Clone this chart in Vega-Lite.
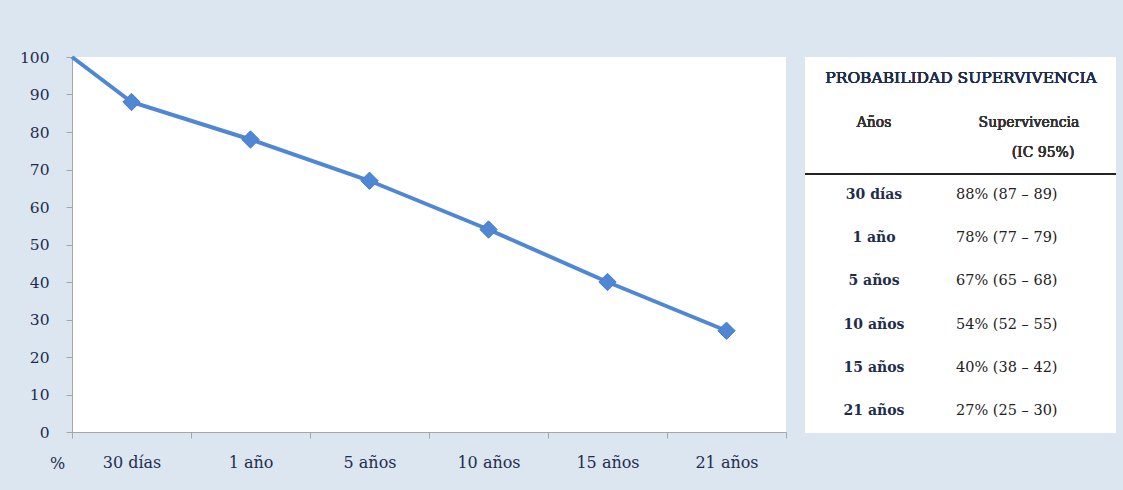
{
  "$schema": "https://vega.github.io/schema/vega-lite/v6.json",
  "autosize": {"type": "pad"},
  "padding": {"left": 19, "top": 49, "right": 7, "bottom": 22},
  "background": "#dce6f1",
  "bounds": "flush",
  "spacing": 19,
  "config": {
    "font": "DejaVu Serif",
    "text": {"font": "DejaVu Serif"},
    "axis": {"labelFont": "DejaVu Serif", "titleFont": "DejaVu Serif"}
  },
  "datasets": {
    "curva": [
      {"periodo": "Inicio", "t": 0, "sup": 100},
      {"periodo": "30 días", "t": 0.5, "sup": 88},
      {"periodo": "1 año", "t": 1.5, "sup": 78},
      {"periodo": "5 años", "t": 2.5, "sup": 67},
      {"periodo": "10 años", "t": 3.5, "sup": 54},
      {"periodo": "15 años", "t": 4.5, "sup": 40},
      {"periodo": "21 años", "t": 5.5, "sup": 27}
    ],
    "tabla": [
      {"anos": "30 días", "ic": "88% (87 – 89)"},
      {"anos": "1 año", "ic": "78% (77 – 79)"},
      {"anos": "5 años", "ic": "67% (65 – 68)"},
      {"anos": "10 años", "ic": "54% (52 – 55)"},
      {"anos": "15 años", "ic": "40% (38 – 42)"},
      {"anos": "21 años", "ic": "27% (25 – 30)"}
    ]
  },
  "hconcat": [
    {
      "width": 714,
      "height": 375,
      "view": {"fill": "white", "stroke": null},
      "data": {"name": "curva"},
      "resolve": {"axis": {"x": "independent"}},
      "encoding": {
        "y": {
          "field": "sup", "type": "quantitative",
          "scale": {"domain": [0, 100], "nice": false},
          "axis": {
            "values": [0, 10, 20, 30, 40, 50, 60, 70, 80, 90, 100],
            "tickCount": 11,
            "labelOverlap": false, "labelFlush": false,
            "grid": false, "domainColor": "#a6a6a6", "tickColor": "#a6a6a6",
            "tickSize": 6, "labelPadding": 17, "labelFontSize": 15.5,
            "labelColor": "#1f2d4d",
            "title": "%", "titleAngle": 0, "titleFontSize": 16,
            "titleFontWeight": "normal", "titleColor": "#1f2d4d",
            "titleX": -15, "titleY": 406, "titleAlign": "center",
            "titleBaseline": "middle"
          }
        }
      },
      "layer": [
        {
          "mark": {"type": "line", "color": "#4f87d4", "strokeWidth": 4},
          "encoding": {
            "x": {
              "field": "t", "type": "quantitative",
              "scale": {"domain": [0, 6], "nice": false, "zero": false},
              "axis": {
                "orient": "bottom", "values": [0, 1, 2, 3, 4, 5, 6],
                "labels": false, "grid": false, "title": null,
                "domainColor": "#a6a6a6", "tickColor": "#a6a6a6", "tickSize": 6
              }
            }
          }
        },
        {
          "transform": [{"filter": "datum.t > 0"}],
          "mark": {"type": "point", "shape": "diamond", "filled": true, "size": 300,
                   "color": "#4f87d4", "opacity": 1, "stroke": "#4a7fc8", "strokeWidth": 1},
          "encoding": {
            "x": {
              "field": "t", "type": "quantitative",
              "axis": {
                "orient": "bottom", "values": [0.5, 1.5, 2.5, 3.5, 4.5, 5.5],
                "labelExpr": "['30 días','1 año','5 años','10 años','15 años','21 años'][floor(datum.value)]",
                "labelOverlap": false, "labelFlush": false,
                "ticks": false, "domain": false, "grid": false, "title": null,
                "labelPadding": 22, "labelFontSize": 16, "labelColor": "#1f2d4d"
              }
            }
          }
        }
      ]
    },
    {
      "width": 311,
      "height": 376,
      "view": {"fill": "white", "stroke": null},
      "data": {"name": "tabla"},
      "layer": [
        {
          "mark": {"type": "text", "text": "PROBABILIDAD SUPERVIVENCIA", "fontSize": 15.5,
                   "color": "#1f2d4d", "align": "center", "baseline": "middle"},
          "encoding": {"x": {"value": 156}, "y": {"value": 21}}
        },
        {
          "mark": {"type": "text", "text": "Años", "fontSize": 14,
                   "color": "#333333", "align": "center", "baseline": "middle"},
          "encoding": {"x": {"value": 69}, "y": {"value": 66}}
        },
        {
          "mark": {"type": "text", "text": "Supervivencia", "fontSize": 14,
                   "color": "#333333", "align": "center", "baseline": "middle"},
          "encoding": {"x": {"value": 224}, "y": {"value": 66}}
        },
        {
          "mark": {"type": "text", "text": "(IC 95%)", "fontSize": 14,
                   "color": "#333333", "align": "center", "baseline": "middle"},
          "encoding": {"x": {"value": 238}, "y": {"value": 96}}
        },
        {
          "mark": {"type": "rule", "color": "#222222", "strokeWidth": 2},
          "encoding": {"y": {"value": 117}}
        },
        {
          "mark": {"type": "text", "fontSize": 14, "fontWeight": "bold",
                   "color": "#1f2d4d", "align": "center", "baseline": "middle"},
          "encoding": {
            "x": {"value": 69},
            "y": {"field": "anos", "type": "ordinal", "sort": null,
                  "scale": {"type": "point", "range": [138, 354], "padding": 0}, "axis": null},
            "text": {"field": "anos"}
          }
        },
        {
          "mark": {"type": "text", "fontSize": 14.5,
                   "color": "#222222", "align": "left", "baseline": "middle"},
          "encoding": {
            "x": {"value": 151},
            "y": {"field": "anos", "type": "ordinal", "sort": null, "axis": null},
            "text": {"field": "ic"}
          }
        }
      ]
    }
  ]
}
